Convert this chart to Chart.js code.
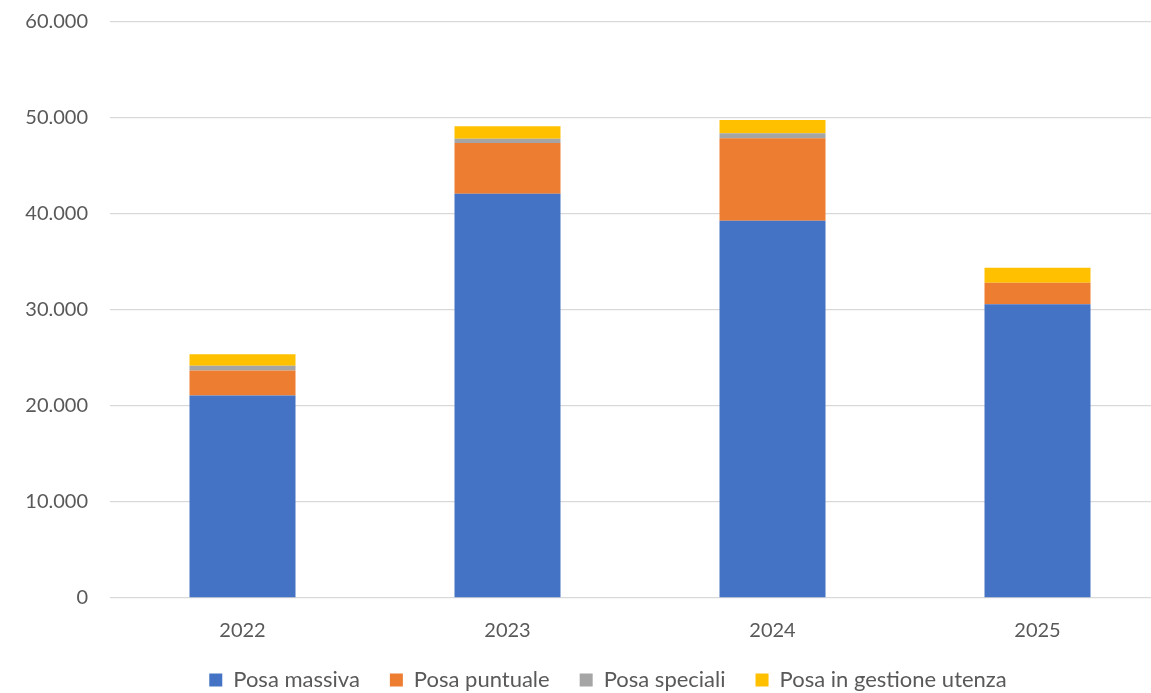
<!DOCTYPE html>
<html>
<head>
<meta charset="utf-8">
<script src="https://cdn.jsdelivr.net/npm/chart.js@4/dist/chart.umd.min.js"></script>
<style>
  html, body { margin: 0; padding: 0; background: #fff; overflow: hidden; }
  #wrap { width: 1151px; height: 693px; overflow: hidden; }
</style>
</head>
<body>
<div id="wrap"><canvas id="chart" width="1170" height="693"></canvas></div>
<script>
const anni = ["2022", "2023", "2024", "2025"];
const posaMassiva = [21100, 42100, 39300, 30600];
const posaPuntuale = [2600, 5300, 8600, 2250];
const posaSpeciali = [500, 450, 500, 0];
const posaUtenza = [1200, 1300, 1400, 1550];
const yTicks = [0, 10000, 20000, 30000, 40000, 50000, 60000];

// thousands separator in Italian style: 60.000
function fmt(v) {
  return String(v).replace(/\B(?=(\d{3})+(?!\d))/g, ".");
}

const font = "Lato, 'Open Sans', sans-serif";

// nudge the legend right of the canvas centre
const legendShift = {
  id: "legendShift",
  afterLayout(chart) {
    chart.legend.left += 46;
  },
};

const ctx = document.getElementById("chart").getContext("2d");

new Chart(ctx, {
  type: "bar",
  data: {
    labels: anni,
    datasets: [
      { label: "Posa massiva", data: posaMassiva, backgroundColor: "#4472C4" },
      { label: "Posa puntuale", data: posaPuntuale, backgroundColor: "#ED7D31" },
      { label: "Posa speciali", data: posaSpeciali, backgroundColor: "#A5A5A5" },
      { label: "Posa in gestione utenza", data: posaUtenza, backgroundColor: "#FFC000" },
    ],
  },
  options: {
    responsive: false,
    animation: false,
    layout: {
      padding: { left: 0, right: 0, top: 22, bottom: 0 },
    },
    datasets: {
      bar: { categoryPercentage: 1, barPercentage: 0.4 },
    },
    plugins: {
      tooltip: { enabled: false },
      legend: {
        position: "bottom",
        maxHeight: 54,
        labels: {
          boxWidth: 13,
          boxHeight: 13,
          padding: 30,
          color: "#595959",
          font: { family: font, size: 22 },
        },
      },
    },
    scales: {
      x: {
        stacked: true,
        afterFit: (scale) => { scale.height = 41; },
        grid: { display: false },
        border: { display: false },
        ticks: {
          color: "#595959",
          padding: 13,
          font: { family: font, size: 20 },
        },
      },
      y: {
        stacked: true,
        min: 0,
        max: 60000,
        afterFit: (scale) => {
          scale.width = 110;
          scale.paddingTop = 0;
          scale.paddingBottom = 0;
        },
        afterBuildTicks: (scale) => {
          scale.ticks = yTicks.map((v) => ({ value: v }));
        },
        grid: { color: "#d9d9d9", lineWidth: 1.3, drawTicks: false },
        border: { display: false },
        ticks: {
          color: "#595959",
          padding: 22,
          font: { family: font, size: 20 },
          callback: (v) => fmt(v),
        },
      },
    },
  },
  plugins: [legendShift],
});
</script>
</body>
</html>
